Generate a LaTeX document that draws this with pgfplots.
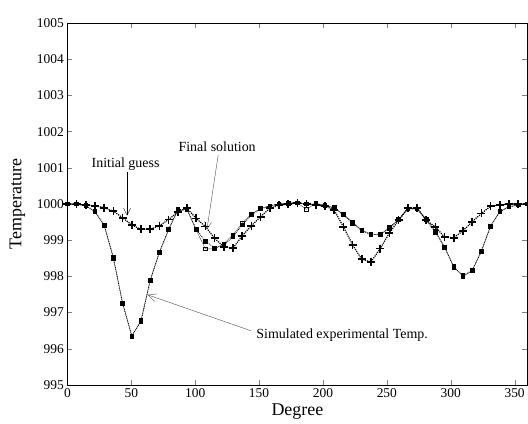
\documentclass[border=0pt]{standalone}
\usepackage{fontspec}
\setmainfont{Liberation Serif}
\usepackage{pgfplots}
\pgfplotsset{compat=1.18}
\usepackage{pgfplotstable}
\usetikzlibrary{arrows.meta}
\pgfplotstableread{
x S F I
0 1000 1000 1000
7.2 1000 1000 999.99
14.4 999.95 999.96 999.97
21.6 999.78 999.8 999.95
28.8 999.4 999.42 999.9
36 998.5 998.52 999.8
43.2 997.27 997.25 999.62
50.4 996.35 996.36 999.42
57.6 996.78 996.76 999.3
64.8 997.9 997.88 999.3
72 998.68 998.66 999.4
79.2 999.28 999.3 999.57
86.4 999.82 999.85 999.78
93.6 999.85 999.85 999.88
100.8 999.28 999.3 999.6
108 998.76 998.97 999.38
115.2 998.76 998.79 999.05
122.4 998.9 998.86 998.82
129.6 999.15 999.1 998.78
136.8 999.47 999.42 999.12
144 999.72 999.7 999.4
151.2 999.88 999.86 999.65
158.4 999.95 999.95 999.88
165.6 1000 1000 999.97
172.8 1000.03 1000.02 1000
180 1000.03 1000.03 1000.03
187.2 999.85 1000 1000
194.4 1000.02 1000 999.97
201.6 999.97 999.96 999.95
208.8 999.9 999.88 999.83
216 999.72 999.7 999.37
223.2 999.5 999.47 998.87
230.4 999.28 999.26 998.47
237.6 999.17 999.15 998.4
244.8 999.15 999.17 998.77
252 999.33 999.35 999.2
259.2 999.56 999.58 999.55
266.4 999.86 999.87 999.88
273.6 999.87 999.87 999.9
280.8 999.58 999.56 999.55
288 999.25 999.22 999.37
295.2 998.82 998.8 999.08
302.4 998.27 998.25 999.07
309.6 998.0 998.02 999.26
316.8 998.15 998.17 999.51
324 998.71 998.69 999.74
331.2 999.4 999.38 999.94
338.4 999.8 999.78 999.97
345.6 999.93 999.92 1000
352.8 999.97 999.97 1000
360 1000 1000 1000
}\data
\begin{document}
\begin{tikzpicture}
\begin{axis}[
  scale only axis, width=460bp, height=362bp,
  xmin=0, xmax=360, ymin=995, ymax=1005,
  xtick={0,50,...,350}, ytick={995,996,...,1005},
  tick align=inside, tick pos=both,
  major tick length=5bp,
  axis line style={line width=0.8pt},
  xticklabel={\pgfmathtruncatemacro\tmp{round(\tick)}\tmp},
  yticklabel={\pgfmathtruncatemacro\tmp{round(\tick)}\tmp},
  ticklabel style={font=\fontsize{13.5}{14}\selectfont},
  xlabel={Degree}, ylabel={Temperature},
  label style={font=\fontsize{18}{20}\selectfont},
  xlabel style={yshift=1bp},
  ylabel style={yshift=5bp},
  clip=false,
]
\addplot[black!70, thin, mark=square, mark size=1.8pt, mark options={solid, fill=white, draw=black, line width=0.8pt}] table[x=x,y=S]{\data};
\addplot[black, densely dotted, thick, mark=square*, mark size=1.8pt, mark options={solid}] table[x=x,y=F]{\data};
\addplot[black, densely dotted, very thick, mark=+, mark size=4pt, mark options={solid, line width=1.8pt}] table[x=x,y=I]{\data};
\node[font=\fontsize{14}{16}\selectfont] at (axis cs:45.5,1001.1) {Initial guess};
\draw[-{Straight Barb[length=7bp,width=7bp]}, thin] (axis cs:46.7,1000.88) -- (axis cs:46.7,999.68);
\node[font=\fontsize{14}{16}\selectfont] at (axis cs:117.2,1001.58) {Final solution};
\draw[-{Straight Barb[length=7bp,width=7bp]}, thin, black!70] (axis cs:118,1001.35) -- (axis cs:109.2,999.3);
\node[font=\fontsize{14}{16}\selectfont] at (axis cs:215,996.38) {Simulated experimental Temp.};
\draw[-{Straight Barb[length=8bp,width=8bp]}, thin, black!70] (axis cs:143.5,996.5) -- (axis cs:62.9,997.49);
\end{axis}
\pgfresetboundingbox
\path[use as bounding box] ([shift={(-67.4bp,-39bp)}]current axis.south west) rectangle ++(528bp,424bp);
\end{tikzpicture}
\end{document}
